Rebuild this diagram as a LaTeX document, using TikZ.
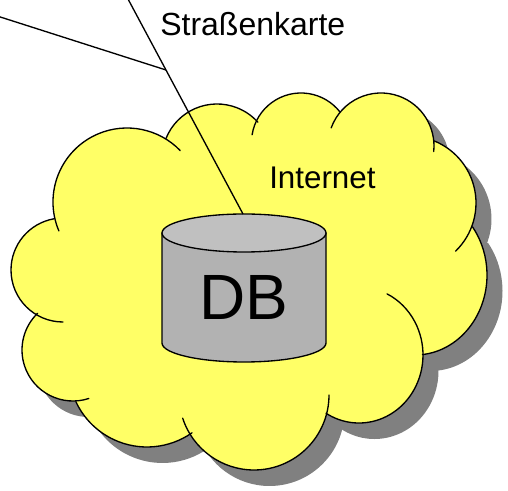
\documentclass[tikz,border=0pt]{standalone}
\usepackage{fontspec}
\setmainfont{Liberation Sans}
\definecolor{cloudyellow}{RGB}{255,255,102}
\definecolor{shadowgray}{RGB}{128,128,128}
\definecolor{cylbody}{RGB}{178,178,178}
\definecolor{cyltop}{RGB}{192,192,192}
\newcommand\allLobes[1]{%
#1{127}{202}{74}{74}{157}{316}%
#1{63}{270}{52}{52}{90}{260}%
#1{73}{350}{51}{51}{72}{226}%
#1{147}{368.5}{78.5}{78.5}{55}{155}%
#1{254}{395}{75}{75}{0}{162}%
#1{359}{355}{64}{68}{121}{-64}%
#1{415}{275}{72}{80}{84}{-37}%
#1{409}{203}{67}{67}{46}{-68}%
#1{381}{146}{53}{53}{200}{366}%
#1{301}{142.5}{49.5}{49.5}{189}{322}%
#1{217}{159}{55}{55}{202}{318}%
}
\newcommand\lobeFill[6]{\fill (#1,#2) ++(#5:#3 and #4) arc[start angle=#5,end angle=#6,x radius=#3,y radius=#4] -- (250,270) -- cycle;}
\newcommand\lobeLine[6]{\draw[outline] (#1,#2) ++(#5:#3 and #4) arc[start angle=#5,end angle=#6,x radius=#3,y radius=#4];}
\tikzset{
  outline/.style={line width=1pt,line join=round,line cap=round,black},
  leader/.style={line width=1pt,black},
  label/.style={inner sep=0pt,anchor=base west,font=\fontsize{24}{28}\selectfont},
}
\begin{document}
\begin{tikzpicture}[x=0.75pt,y=-0.75pt]
\useasboundingbox (0,0) rectangle (508,491);
\begin{scope}[shift={(15.5,16)},fill=shadowgray]
  \allLobes\lobeFill
\end{scope}
\begin{scope}[fill=cloudyellow]
  \allLobes\lobeFill
  \fill (166,150) -- (260,130) -- (335,125) -- (435,155) -- (470,235) -- (430,350) -- (330,410) -- (190,430) -- (80,395) -- (40,320) -- (60,225) -- cycle;
\end{scope}
\allLobes\lobeLine
% cylinder
\filldraw[outline,fill=cylbody] (162,233) -- (162,343) arc[start angle=180,end angle=0,x radius=82,y radius=19] -- (326,233) -- cycle;
\filldraw[outline,fill=cyltop] (244,233) ellipse[x radius=82,y radius=19];
\coordinate (cyltopedge) at (243,214);
\coordinate (freeA) at (128,-1);
\coordinate (freeB) at (-1,16.6);
\coordinate (joint) at (166,70);
\draw[leader] (freeA) -- (cyltopedge);
\draw[leader] (freeB) -- (joint);
\node[label] (dbtext) at (199.5,320) {\fontsize{48}{50}\selectfont DB};
\node[label] (internet) at (269,188.5) {\fontsize{23.5}{28}\selectfont Internet};
\node[label] (karte) at (160,35.5) {Straßenkarte};
\end{tikzpicture}
\end{document}
